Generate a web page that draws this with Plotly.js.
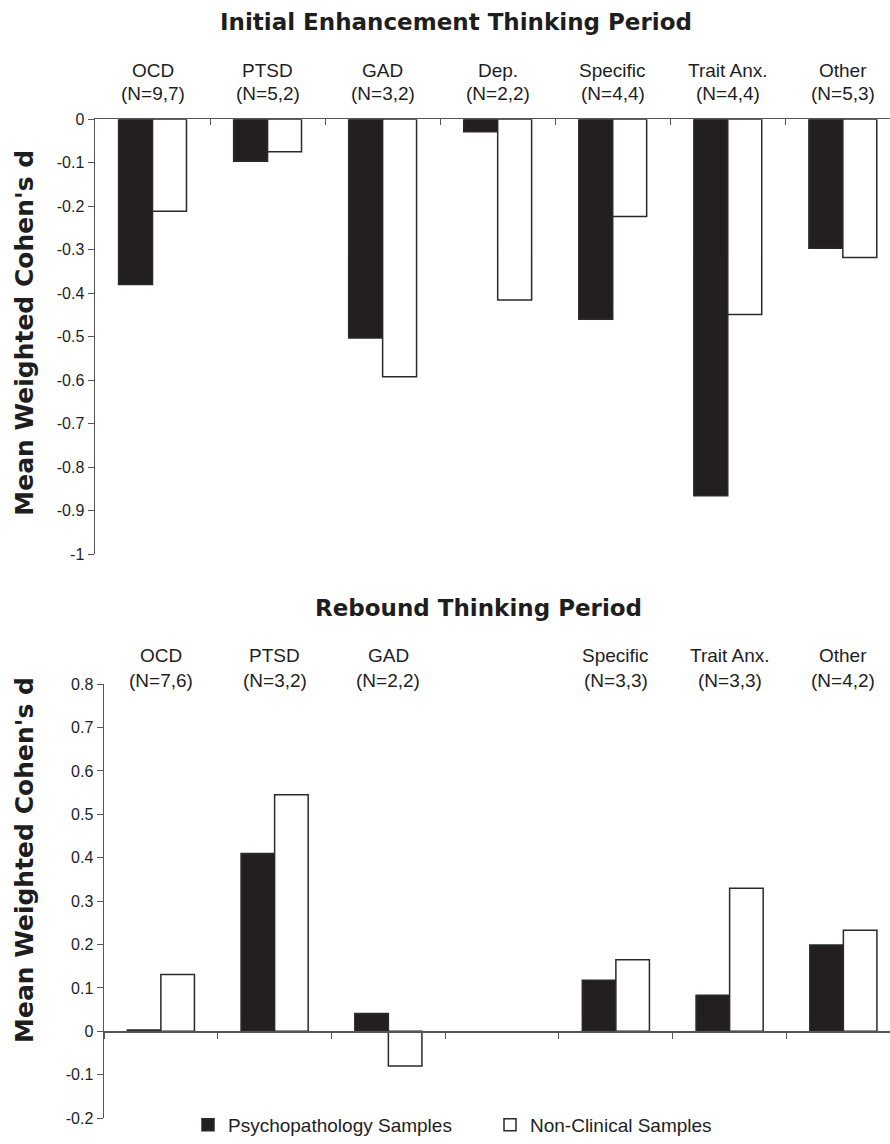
<!DOCTYPE html>
<html>
<head>
<meta charset="utf-8">
<script src="https://cdn.plot.ly/plotly-3.0.1.min.js"></script>
<style>html,body{margin:0;padding:0;background:#fff;}#chart{width:890px;height:1144px;}</style>
</head>
<body>
<div id="chart"></div>
<script>
// ---- data ----
const categories = ["OCD", "PTSD", "GAD", "Dep.", "Specific", "Trait Anx.", "Other"];
const initialN = ["(N=9,7)", "(N=5,2)", "(N=3,2)", "(N=2,2)", "(N=4,4)", "(N=4,4)", "(N=5,3)"];
const reboundN = ["(N=7,6)", "(N=3,2)", "(N=2,2)", "", "(N=3,3)", "(N=3,3)", "(N=4,2)"];
const initialPsych = [-0.38, -0.097, -0.503, -0.029, -0.46, -0.866, -0.297];
const initialNonClin = [-0.212, -0.075, -0.592, -0.416, -0.224, -0.449, -0.318];
const reboundPsych = [0.003, 0.41, 0.041, null, 0.118, 0.083, 0.199];
const reboundNonClin = [0.131, 0.545, -0.08, null, 0.165, 0.33, 0.233];
const initialTickVals = [0, -0.1, -0.2, -0.3, -0.4, -0.5, -0.6, -0.7, -0.8, -0.9, -1];
const initialTickText = ["0", "-0.1", "-0.2", "-0.3", "-0.4", "-0.5", "-0.6", "-0.7", "-0.8", "-0.9", "-1"];
const reboundTickVals = [0.8, 0.7, 0.6, 0.5, 0.4, 0.3, 0.2, 0.1, 0, -0.1, -0.2];
const reboundTickText = ["0.8", "0.7", "0.6", "0.5", "0.4", "0.3", "0.2", "0.1", "0", "-0.1", "-0.2"];
const seriesNames = ["Psychopathology Samples", "Non-Clinical Samples"];
const titleTop = "Initial Enhancement Thinking Period";
const titleBottom = "Rebound Thinking Period";
const yTitle = "Mean Weighted Cohen's d";

// ---- style ----
const W = 890, H = 1144;
const py = v => 1 - v / H;
const dark = "#231f20";
const outline = {color: "#2a2a2a", width: 1.5};
const txt = "#1e1e1e";
const sans = "Liberation Sans, Arial, sans-serif";
const boldFont = "DejaVu Sans, Liberation Sans, sans-serif";

const topDom = [py(558), py(120)];
const botDom = [py(1126), py(689)];
const botRange = [-0.2, 0.8];
const zeroPos = botDom[0] + (0 - botRange[0]) / (botRange[1] - botRange[0]) * (botDom[1] - botDom[0]);

const traces = [
  {type: "bar", x: categories, y: initialPsych, name: seriesNames[0], xaxis: "x", yaxis: "y",
   marker: {color: dark, line: outline}, showlegend: false},
  {type: "bar", x: categories, y: initialNonClin, name: seriesNames[1], xaxis: "x", yaxis: "y",
   marker: {color: "#ffffff", line: outline}, showlegend: false},
  {type: "bar", x: categories, y: reboundPsych, name: seriesNames[0], xaxis: "x2", yaxis: "y2",
   marker: {color: dark, line: outline}},
  {type: "bar", x: categories, y: reboundNonClin, name: seriesNames[1], xaxis: "x2", yaxis: "y2",
   marker: {color: "#ffffff", line: outline}}
];

const annotations = [];
categories.forEach((c, i) => {
  annotations.push({xref: "x", yref: "paper", x: c, y: py(71), text: c, showarrow: false,
    font: {family: sans, size: 19, color: txt}, yanchor: "middle"});
  annotations.push({xref: "x", yref: "paper", x: c, y: py(94), text: initialN[i], showarrow: false,
    font: {family: sans, size: 19, color: txt}, yanchor: "middle"});
  if (reboundN[i]) {
    annotations.push({xref: "x2", yref: "paper", x: c, y: py(660), text: c, showarrow: false,
      font: {family: sans, size: 19, color: txt}, yanchor: "middle"});
    annotations.push({xref: "x2", yref: "paper", x: c, y: py(685), text: reboundN[i], showarrow: false,
      font: {family: sans, size: 19, color: txt}, yanchor: "middle"});
  }
});
annotations.push({xref: "paper", yref: "paper", x: 456 / W, y: py(22), text: "<b>" + titleTop + "</b>",
  showarrow: false, font: {family: boldFont, size: 23, color: txt}, yanchor: "middle"});
annotations.push({xref: "paper", yref: "paper", x: 478 / W, y: py(612), text: "<b>" + titleBottom + "</b>",
  showarrow: false, font: {family: boldFont, size: 23, color: txt}, yanchor: "middle"});
annotations.push({xref: "paper", yref: "paper", x: 25 / W, y: py(335), text: "<b>" + yTitle + "</b>",
  textangle: -90, showarrow: false, font: {family: boldFont, size: 25, color: txt}, xanchor: "center", yanchor: "middle"});
annotations.push({xref: "paper", yref: "paper", x: 25 / W, y: py(866), text: "<b>" + yTitle + "</b>",
  textangle: -90, showarrow: false, font: {family: boldFont, size: 25, color: txt}, xanchor: "center", yanchor: "middle"});

const layout = {
  width: W, height: H,
  margin: {l: 0, r: 0, t: 0, b: 0},
  paper_bgcolor: "#fff", plot_bgcolor: "#fff",
  barmode: "group", bargap: 0.41, bargroupgap: 0,
  showlegend: true,
  legend: {orientation: "h", x: 188 / W, xanchor: "left", y: py(1133), yanchor: "middle",
    font: {family: sans, size: 19, color: txt}, bgcolor: "rgba(0,0,0,0)", entrywidth: 257, traceorder: "normal"},
  xaxis: {domain: [95 / W, 1], anchor: "y", side: "top", type: "category", range: [-0.5, 6.41],
    showline: true, linecolor: "#555", linewidth: 1.5, ticks: "inside", ticklen: 6, tickcolor: "#555",
    tickson: "boundaries", showticklabels: false, showgrid: false, zeroline: false, fixedrange: true},
  yaxis: {domain: topDom, anchor: "x", range: [-1, 0], tickmode: "array", tickvals: initialTickVals,
    ticktext: initialTickText, showline: true, linecolor: "#555", linewidth: 1.5, ticks: "outside", ticklen: 6,
    tickcolor: "#555", showgrid: false, zeroline: false, tickfont: {family: sans, size: 16, color: txt}},
  xaxis2: {domain: [104 / W, 1], anchor: "free", position: zeroPos, side: "bottom", type: "category",
    range: [-0.5, 6.41], showline: true, linecolor: "#555", linewidth: 1.5, ticks: "outside", ticklen: 6,
    tickcolor: "#555", tickson: "boundaries", showticklabels: false, showgrid: false, zeroline: false},
  yaxis2: {domain: botDom, anchor: "x2", range: botRange, tickmode: "array", tickvals: reboundTickVals,
    ticktext: reboundTickText, showline: true, linecolor: "#555", linewidth: 1.5, ticks: "outside", ticklen: 6,
    tickcolor: "#555", showgrid: false, zeroline: false, tickfont: {family: sans, size: 16, color: txt}},
  annotations: annotations
};

Plotly.newPlot("chart", traces, layout, {displayModeBar: false, staticPlot: true});
</script>
</body>
</html>
